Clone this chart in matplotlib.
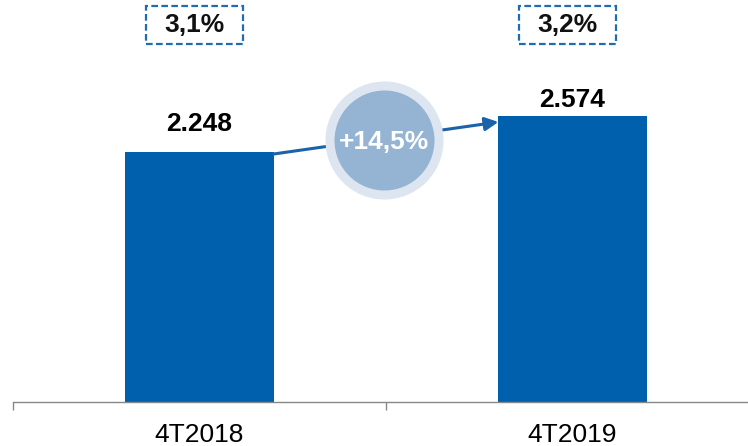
import matplotlib
matplotlib.use("Agg")
import matplotlib.pyplot as plt
from matplotlib.patches import Rectangle

plt.rcParams["font.family"] = ["Liberation Sans", "DejaVu Sans"]

categories = ["4T2018", "4T2019"]
values = [2248, 2574]
value_labels = ["2.248", "2.574"]
box_labels = ["3,1%", "3,2%"]
growth_label = "+14,5%"

BAR_COLOR = "#0060ad"
ARROW_COLOR = "#1a62aa"
BOX_COLOR = "#1f6cb5"

fig = plt.figure(figsize=(7.48, 4.46), dpi=100)
ax = fig.add_axes([13 / 748, 1 - 402 / 446, 1 - 13 / 748, 402 / 446])

x = list(range(len(categories)))
bar_w = 0.397
ax.bar(x, values, width=bar_w, color=BAR_COLOR, zorder=2)

# label gaps above bars (data units)
label_gap = [252, 144]
for xi, v, lab, g in zip(x, values, value_labels, label_gap):
    ax.text(xi, v + g, lab, ha="center", va="center", fontsize=19,
            fontweight="bold", color="#000000")

# dashed boxes on top
for xi, lab in zip(x, box_labels):
    cx = xi - 0.013
    bw, bh = 0.26, 342
    ax.add_patch(Rectangle((cx - bw / 2, 3390 - bh / 2), bw, bh, fill=False,
                           edgecolor=BOX_COLOR, linestyle=(0, (3, 1.5)),
                           linewidth=1.6, clip_on=False, zorder=3))
    ax.text(cx, 3390, lab, ha="center", va="center", fontsize=19,
            fontweight="bold", color="#111111")

# growth arrow
ax.annotate("", xy=(x[1] - bar_w / 2, values[1] - 56), xytext=(x[0] + bar_w / 2, values[0] - 18),
            arrowprops=dict(arrowstyle="-|>,head_length=0.8,head_width=0.4",
                            color=ARROW_COLOR, lw=2.2, shrinkA=0, shrinkB=0),
            zorder=3)

# circle with growth
cx_c, cy_c = 0.4946, 2356
ax.scatter([cx_c], [cy_c], s=85 ** 2, color="#dde5f0", zorder=4, linewidths=0)
ax.scatter([cx_c], [cy_c], s=72 ** 2, color="#95b3d3", zorder=5, linewidths=0)
ax.text(cx_c, cy_c - 20, growth_label, ha="center", va="center", fontsize=19,
        fontweight="bold", color="white", zorder=6)

for s in ["top", "right", "left"]:
    ax.spines[s].set_visible(False)
ax.spines["bottom"].set_color("#888888")
ax.spines["bottom"].set_linewidth(1)
ax.set_yticks([])
ax.set_xticks(x)
ax.set_xticklabels(categories, fontsize=19)
ax.tick_params(axis="x", which="major", length=0, pad=15)
ax.set_xticks([-0.5, 0.5], minor=True)
ax.tick_params(axis="x", which="minor", length=6, color="#888888", width=1)

ax.set_xlim(-0.5, 1.4705)
ax.set_ylim(0, 3615)

fig.savefig("out.png", dpi=100)
